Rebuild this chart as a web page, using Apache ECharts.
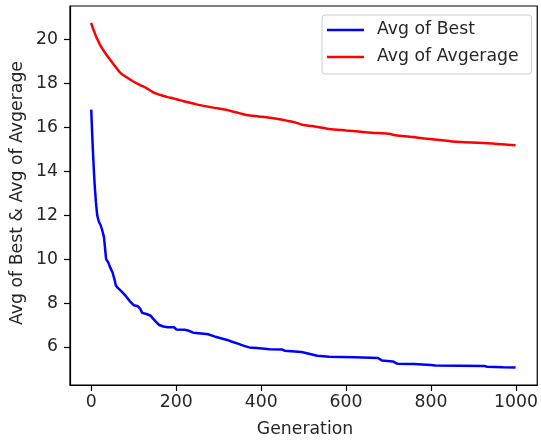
<!DOCTYPE html>
<html>
<head>
<meta charset="utf-8">
<script src="https://cdn.jsdelivr.net/npm/echarts@6/dist/echarts.min.js"></script>
<style>
  html, body { margin: 0; padding: 0; background: #fff; }
  #chart { width: 541px; height: 443px; }
</style>
</head>
<body>
<div id="chart"></div>
<script>
// Generation numbers and values for the "Avg of Best" curve
var bestGen = [0, 2, 4, 6, 8, 11, 14, 18, 22, 26, 30, 33, 35, 40, 45, 50, 55, 58, 62, 70,
  80, 90, 100, 110, 115, 120, 130, 140, 145, 152, 160, 170, 180, 195, 200, 220, 228, 240,
  265, 275, 290, 305, 320, 330, 345, 360, 372, 390, 420, 450, 455, 495, 515, 532, 560,
  620, 675, 685, 710, 720, 760, 800, 810, 925, 932, 970, 999];
var bestVal = [16.8, 15.8, 14.9, 14.1, 13.4, 12.6, 12.0, 11.7, 11.55, 11.3, 11.0, 10.4, 10.0,
  9.85, 9.6, 9.4, 9.05, 8.8, 8.7, 8.55, 8.35, 8.1, 7.9, 7.85, 7.75, 7.55, 7.5, 7.42, 7.3,
  7.15, 7.0, 6.93, 6.9, 6.9, 6.8, 6.78, 6.75, 6.65, 6.6, 6.58, 6.48, 6.4, 6.32, 6.25, 6.15,
  6.05, 5.98, 5.95, 5.9, 5.88, 5.83, 5.77, 5.68, 5.6, 5.56, 5.53, 5.5, 5.38, 5.34, 5.24,
  5.22, 5.18, 5.16, 5.14, 5.1, 5.08, 5.07];

// Generation numbers and values for the "Avg of Avgerage" curve
var avgGen = [0, 3, 7, 12, 22, 32, 45, 57, 70, 85, 100, 115, 130, 145, 160, 178, 195, 210,
  225, 245, 265, 290, 317, 340, 365, 395, 420, 440, 460, 480, 500, 520, 560, 600, 630, 660,
  700, 720, 750, 785, 820, 850, 880, 910, 950, 980, 999];
var avgVal = [20.75, 20.55, 20.35, 20.1, 19.7, 19.4, 19.06, 18.75, 18.45, 18.25, 18.07, 17.92,
  17.78, 17.6, 17.48, 17.38, 17.3, 17.22, 17.15, 17.05, 16.97, 16.88, 16.79, 16.68, 16.56,
  16.49, 16.43, 16.37, 16.3, 16.22, 16.1, 16.05, 15.92, 15.85, 15.8, 15.75, 15.7, 15.62,
  15.57, 15.49, 15.42, 15.35, 15.32, 15.29, 15.25, 15.2, 15.18];

// Axis tick positions
var xTicks = [0, 200, 400, 600, 800, 1000];
var yTicks = [6, 8, 10, 12, 14, 16, 18, 20];

var seriesNames = ['Avg of Best', 'Avg of Avgerage'];

function pairs(xs, ys) {
  return xs.map(function (x, i) { return [x, ys[i]]; });
}

var FONT = 'DejaVu Sans';
var TEXT = '#262626';
var FS = 17.3;
var plain = function (v) { return String(v); };

var chart = echarts.init(document.getElementById('chart'), null, { renderer: 'canvas' });

chart.setOption({
  animation: false,
  backgroundColor: '#ffffff',
  grid: {
    left: 70, top: 6, right: 1, bottom: 58,
    show: true, borderColor: '#000', borderWidth: 1.2, backgroundColor: 'transparent'
  },
  xAxis: {
    type: 'value',
    min: -50, max: 1050,
    splitLine: { show: false },
    axisLine: { show: true, onZero: false, lineStyle: { color: '#000', width: 1.2 } },
    axisTick: { show: true, customValues: xTicks, length: 6, lineStyle: { color: '#000', width: 1.2 } },
    axisLabel: { customValues: xTicks, formatter: plain, margin: 9, color: TEXT, fontFamily: FONT, fontSize: FS }
  },
  yAxis: {
    type: 'value',
    min: 4.27, max: 21.515,
    splitLine: { show: false },
    axisLine: { show: true, onZero: false, lineStyle: { color: '#000', width: 1.2 } },
    axisTick: { show: true, customValues: yTicks, length: 6, lineStyle: { color: '#000', width: 1.2 } },
    axisLabel: { customValues: yTicks, formatter: plain, margin: 12, color: TEXT, fontFamily: FONT, fontSize: FS }
  },
  legend: {
    orient: 'vertical',
    left: 322, top: 15,
    data: seriesNames,
    icon: 'rect',
    itemWidth: 37, itemHeight: 2.5,
    itemGap: 7,
    padding: [5, 13, 7, 5],
    borderColor: '#cccccc', borderWidth: 1, borderRadius: 3,
    backgroundColor: 'rgba(255,255,255,0.8)',
    textStyle: { color: TEXT, fontFamily: FONT, fontSize: FS, lineHeight: 20, padding: [0, 0, 0, 8] }
  },
  graphic: [
    {
      type: 'text', x: 305, y: 430,
      style: { text: 'Generation', fill: TEXT, font: FS + 'px "' + FONT + '"', textAlign: 'center', textVerticalAlign: 'middle' }
    },
    {
      type: 'text', x: 18, y: 193, rotation: Math.PI / 2,
      style: { text: 'Avg of Best & Avg of Avgerage', fill: TEXT, font: FS + 'px "' + FONT + '"', textAlign: 'center', textVerticalAlign: 'middle' }
    }
  ],
  series: [
    {
      name: seriesNames[0], type: 'line', data: pairs(bestGen, bestVal),
      symbol: 'none', color: '#0000ff',
      lineStyle: { color: '#0000ff', width: 2.5 }
    },
    {
      name: seriesNames[1], type: 'line', data: pairs(avgGen, avgVal),
      symbol: 'none', color: '#ff0000', smooth: 0.3,
      lineStyle: { color: '#ff0000', width: 2.5 }
    }
  ]
});
</script>
</body>
</html>
